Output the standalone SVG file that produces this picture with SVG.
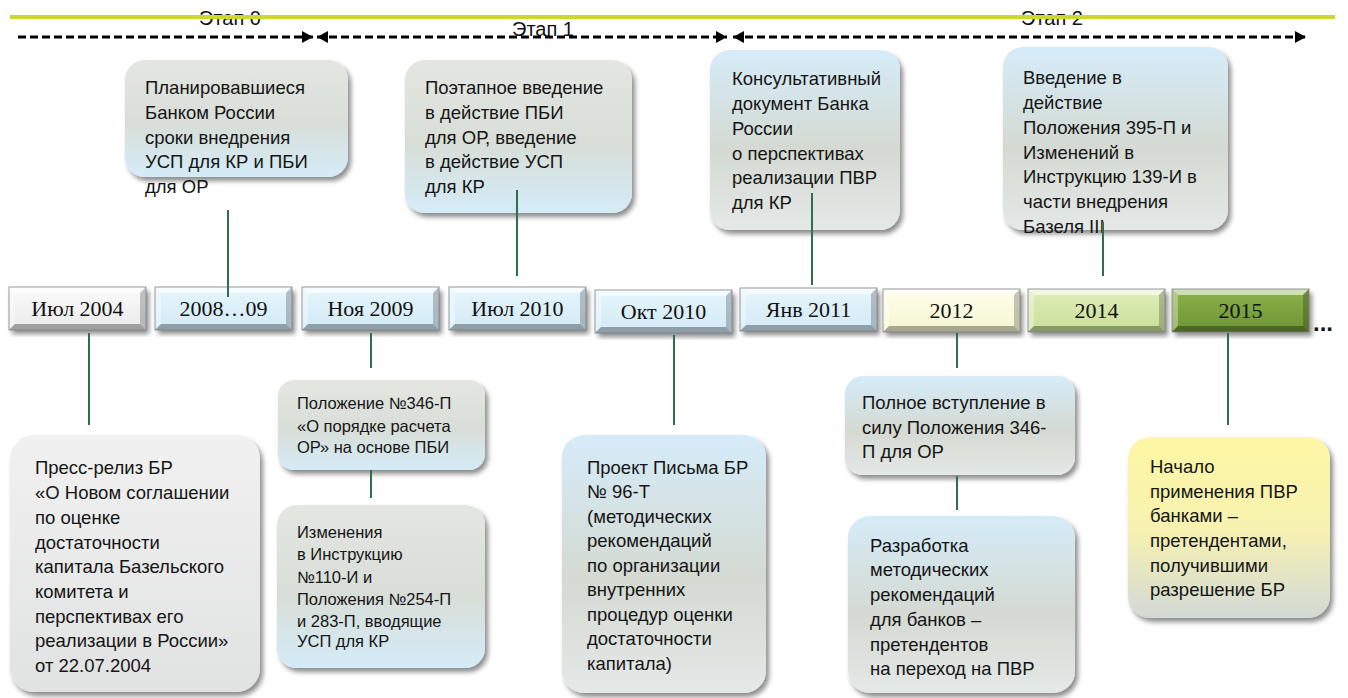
<svg xmlns="http://www.w3.org/2000/svg" width="1348" height="698" viewBox="0 0 1348 698">
<defs>
<style>
.stage{font-family:"Liberation Sans",Arial,sans-serif;font-size:20px;fill:#111;}
.dt{font-family:"Liberation Serif","Times New Roman",serif;font-size:22px;fill:#111;text-anchor:middle;}
.ct{font-family:"Liberation Sans",Arial,sans-serif;font-size:18.5px;fill:#151515;}
.cs{font-family:"Liberation Sans",Arial,sans-serif;font-size:16.5px;fill:#151515;}
.con{stroke:#2f6e4e;stroke-width:2;fill:none;}
.dash{stroke:#000;stroke-width:3;stroke-dasharray:8 4;fill:none;}
.call{filter:url(#sh);}
</style>
<filter id="sh" x="-10%" y="-10%" width="125%" height="125%">
<feDropShadow dx="3" dy="4" stdDeviation="2.5" flood-color="#000" flood-opacity="0.45"/>
</filter>
<marker id="arr" markerWidth="11" markerHeight="12" refX="11" refY="6" orient="auto-start-reverse" markerUnits="userSpaceOnUse">
<path d="M0,0 L11,6 L0,12 z" fill="#000"/>
</marker>
<linearGradient id="gGB" x1="0" y1="0" x2="0" y2="1">
<stop offset="0" stop-color="#e4e6e2"/><stop offset="0.55" stop-color="#d8ded7"/><stop offset="1" stop-color="#d4ecf8"/>
</linearGradient>
<linearGradient id="gBG" x1="0" y1="0" x2="0" y2="1">
<stop offset="0" stop-color="#d5ecf9"/><stop offset="0.55" stop-color="#d4dad2"/><stop offset="1" stop-color="#e4e8e7"/>
</linearGradient>
<linearGradient id="gGr" x1="0" y1="0" x2="0" y2="1">
<stop offset="0" stop-color="#f1f1f1"/><stop offset="1" stop-color="#e1e2e2"/>
</linearGradient>
<linearGradient id="gY" x1="0" y1="0" x2="0" y2="1">
<stop offset="0" stop-color="#fdf7a4"/><stop offset="0.5" stop-color="#f7f2b0"/><stop offset="1" stop-color="#d2d9d6"/>
</linearGradient>
<linearGradient id="fW" x1="0" y1="0" x2="0" y2="1"><stop offset="0" stop-color="#fbfbfb"/><stop offset="1" stop-color="#e9e9e9"/></linearGradient>
<linearGradient id="fB" x1="0" y1="0" x2="0" y2="1"><stop offset="0" stop-color="#e6f5fc"/><stop offset="1" stop-color="#d2eaf6"/></linearGradient>
<linearGradient id="fC" x1="0" y1="0" x2="0" y2="1"><stop offset="0" stop-color="#fefee9"/><stop offset="1" stop-color="#f5f5d2"/></linearGradient>
<linearGradient id="fL" x1="0" y1="0" x2="0" y2="1"><stop offset="0" stop-color="#dfeebb"/><stop offset="1" stop-color="#c9df97"/></linearGradient>
<linearGradient id="fD" x1="0" y1="0" x2="0" y2="1"><stop offset="0" stop-color="#8bb24a"/><stop offset="1" stop-color="#6d9433"/></linearGradient>
<g id="bevel">
<polygon points="0,0 137,0 131,6 6,6" fill="#fff" fill-opacity="0.6"/>
<polygon points="0,0 6,6 6,37 0,43" fill="#fff" fill-opacity="0.35"/>
<polygon points="137,0 137,43 131,37 131,6" fill="#000" fill-opacity="0.22"/>
<polygon points="0,43 137,43 131,37 6,37" fill="#000" fill-opacity="0.32"/>
<rect x="0" y="0" width="137" height="43" fill="none" stroke="#7d8285" stroke-width="0.8"/>
</g>
</defs>

<rect width="1348" height="698" fill="#fff"/>

<g id="stages">
<text class="stage" x="230" y="25" text-anchor="middle">Этап 0</text>
<text class="stage" x="543" y="36" text-anchor="middle">Этап 1</text>
<text class="stage" x="1052" y="25" text-anchor="middle">Этап 2</text>
<line x1="10" y1="17" x2="1335" y2="17" stroke="#cbd92a" stroke-width="4"/>
</g>

<g id="d2004" transform="translate(9,287)"><rect width="137" height="43" fill="url(#fW)" filter="url(#sh)"/><use href="#bevel"/><text class="dt" x="68.5" y="29">Июл 2004</text></g>
<g id="d2008" transform="translate(155,287)"><rect width="137" height="43" fill="url(#fB)" filter="url(#sh)"/><use href="#bevel"/><text class="dt" x="68.5" y="29">2008…09</text></g>
<g id="d2009" transform="translate(302,287)"><rect width="137" height="43" fill="url(#fB)" filter="url(#sh)"/><use href="#bevel"/><text class="dt" x="68.5" y="29">Ноя 2009</text></g>
<g id="d2010a" transform="translate(449,287)"><rect width="137" height="43" fill="url(#fB)" filter="url(#sh)"/><use href="#bevel"/><text class="dt" x="68.5" y="29">Июл 2010</text></g>
<g id="d2010b" transform="translate(595,290)"><rect width="137" height="43" fill="url(#fB)" filter="url(#sh)"/><use href="#bevel"/><text class="dt" x="68.5" y="29">Окт 2010</text></g>
<g id="d2011" transform="translate(740,288)"><rect width="137" height="43" fill="url(#fB)" filter="url(#sh)"/><use href="#bevel"/><text class="dt" x="68.5" y="29">Янв 2011</text></g>
<g id="d2012" transform="translate(883,289)"><rect width="137" height="43" fill="url(#fC)" filter="url(#sh)"/><use href="#bevel"/><text class="dt" x="68.5" y="29">2012</text></g>
<g id="d2014" transform="translate(1028,289)"><rect width="137" height="43" fill="url(#fL)" filter="url(#sh)"/><use href="#bevel"/><text class="dt" x="68.5" y="29">2014</text></g>
<g id="d2015" transform="translate(1172,289)"><rect width="137" height="43" fill="url(#fD)" filter="url(#sh)"/><use href="#bevel"/><text class="dt" x="68.5" y="29">2015</text></g>
<g id="dots"><text class="stage" x="1313" y="331" style="font-size:24px;font-weight:bold">...</text></g>

<g id="c1"><rect class="call" x="125" y="60" width="223" height="117" rx="20" fill="url(#gGB)"/>
<text class="ct"><tspan x="145" y="94">Планировавшиеся</tspan><tspan x="145" y="119">Банком России</tspan><tspan x="145" y="144">сроки внедрения</tspan><tspan x="145" y="168">УСП для КР и ПБИ</tspan><tspan x="145" y="193">для ОР</tspan></text></g>

<g id="c2"><rect class="call" x="405" y="60" width="227" height="153" rx="20" fill="url(#gGB)"/>
<text class="ct"><tspan x="425" y="94">Поэтапное введение</tspan><tspan x="425" y="119">в действие ПБИ</tspan><tspan x="425" y="144">для ОР, введение</tspan><tspan x="425" y="168">в действие УСП</tspan><tspan x="425" y="193">для КР</tspan></text></g>

<g id="c3"><rect class="call" x="710" y="50" width="190" height="180" rx="20" fill="url(#gBG)"/>
<text class="ct"><tspan x="732" y="85">Консультативный</tspan><tspan x="732" y="110">документ Банка</tspan><tspan x="732" y="135">России</tspan><tspan x="732" y="160">о перспективах</tspan><tspan x="732" y="184">реализации ПВР</tspan><tspan x="732" y="209">для КР</tspan></text></g>

<g id="c4"><rect class="call" x="1003" y="47" width="225" height="183" rx="20" fill="url(#gBG)"/>
<text class="ct"><tspan x="1023" y="84">Введение в</tspan><tspan x="1023" y="109">действие</tspan><tspan x="1023" y="134">Положения 395-П и</tspan><tspan x="1023" y="159">Изменений в</tspan><tspan x="1023" y="183">Инструкцию 139-И в</tspan><tspan x="1023" y="208">части внедрения</tspan><tspan x="1023" y="233">Базеля III</tspan></text></g>

<g id="c5"><rect class="call" x="10" y="435" width="250" height="257" rx="24" fill="url(#gGr)"/>
<text class="ct"><tspan x="35" y="474">Пресс-релиз БР</tspan><tspan x="35" y="499">«О Новом соглашении</tspan><tspan x="35" y="524">по оценке</tspan><tspan x="35" y="549">достаточности</tspan><tspan x="35" y="573">капитала Базельского</tspan><tspan x="35" y="598">комитета и</tspan><tspan x="35" y="623">перспективах его</tspan><tspan x="35" y="647">реализации в России»</tspan><tspan x="35" y="672">от 22.07.2004</tspan></text></g>

<g id="c6"><rect class="call" x="278" y="380" width="207" height="90" rx="16" fill="url(#gGB)"/>
<text class="cs"><tspan x="297" y="409">Положение №346-П</tspan><tspan x="297" y="432">«О порядке расчета</tspan><tspan x="297" y="453">ОР» на основе ПБИ</tspan></text></g>

<g id="c7"><rect class="call" x="277" y="505" width="208" height="163" rx="20" fill="url(#gGB)"/>
<text class="cs"><tspan x="297" y="538">Изменения</tspan><tspan x="297" y="560">в Инструкцию</tspan><tspan x="297" y="583">№110-И и</tspan><tspan x="297" y="605">Положения №254-П</tspan><tspan x="297" y="627">и 283-П, вводящие</tspan><tspan x="297" y="647">УСП для КР</tspan></text></g>

<g id="c8"><rect class="call" x="562" y="435" width="204" height="258" rx="22" fill="url(#gBG)"/>
<text class="ct"><tspan x="587" y="474">Проект Письма БР</tspan><tspan x="587" y="498">№ 96-Т</tspan><tspan x="587" y="523">(методических</tspan><tspan x="587" y="547">рекомендаций</tspan><tspan x="587" y="572">по организации</tspan><tspan x="587" y="596">внутренних</tspan><tspan x="587" y="621">процедур оценки</tspan><tspan x="587" y="645">достаточности</tspan><tspan x="587" y="670">капитала)</tspan></text></g>

<g id="c9"><rect class="call" x="845" y="376" width="230" height="99" rx="18" fill="url(#gBG)"/>
<text class="ct"><tspan x="862" y="409">Полное вступление в</tspan><tspan x="862" y="434">силу Положения 346-</tspan><tspan x="862" y="458">П для ОР</tspan></text></g>

<g id="c10"><rect class="call" x="848" y="516" width="227" height="177" rx="22" fill="url(#gBG)"/>
<text class="ct"><tspan x="870" y="552">Разработка</tspan><tspan x="870" y="576">методических</tspan><tspan x="870" y="601">рекомендаций</tspan><tspan x="870" y="626">для банков –</tspan><tspan x="870" y="651">претендентов</tspan><tspan x="870" y="675">на переход на ПВР</tspan></text></g>

<g id="c11"><rect class="call" x="1128" y="437" width="202" height="181" rx="22" fill="url(#gY)"/>
<text class="ct"><tspan x="1150" y="473">Начало</tspan><tspan x="1150" y="498">применения ПВР</tspan><tspan x="1150" y="522">банками –</tspan><tspan x="1150" y="547">претендентами,</tspan><tspan x="1150" y="572">получившими</tspan><tspan x="1150" y="596">разрешение БР</tspan></text></g>

<g id="connectors">
<line class="dash" x1="18" y1="37" x2="313" y2="37" marker-end="url(#arr)"/>
<line class="dash" x1="317" y1="37" x2="727" y2="37" marker-start="url(#arr)" marker-end="url(#arr)"/>
<line class="dash" x1="733" y1="37" x2="1306" y2="37" marker-start="url(#arr)" marker-end="url(#arr)"/>
<line class="con" x1="228" y1="210" x2="228" y2="297"/>
<line class="con" x1="89" y1="333" x2="89" y2="425"/>
<line class="con" x1="371" y1="333" x2="371" y2="368"/>
<line class="con" x1="371" y1="470" x2="371" y2="498"/>
<line class="con" x1="517" y1="190" x2="517" y2="276"/>
<line class="con" x1="674" y1="335" x2="674" y2="425"/>
<line class="con" x1="812" y1="193" x2="812" y2="285"/>
<line class="con" x1="957" y1="333" x2="957" y2="368"/>
<line class="con" x1="957" y1="476" x2="957" y2="510"/>
<line class="con" x1="1103" y1="222" x2="1103" y2="276"/>
<line class="con" x1="1228" y1="333" x2="1228" y2="425"/>
</g>
</svg>
